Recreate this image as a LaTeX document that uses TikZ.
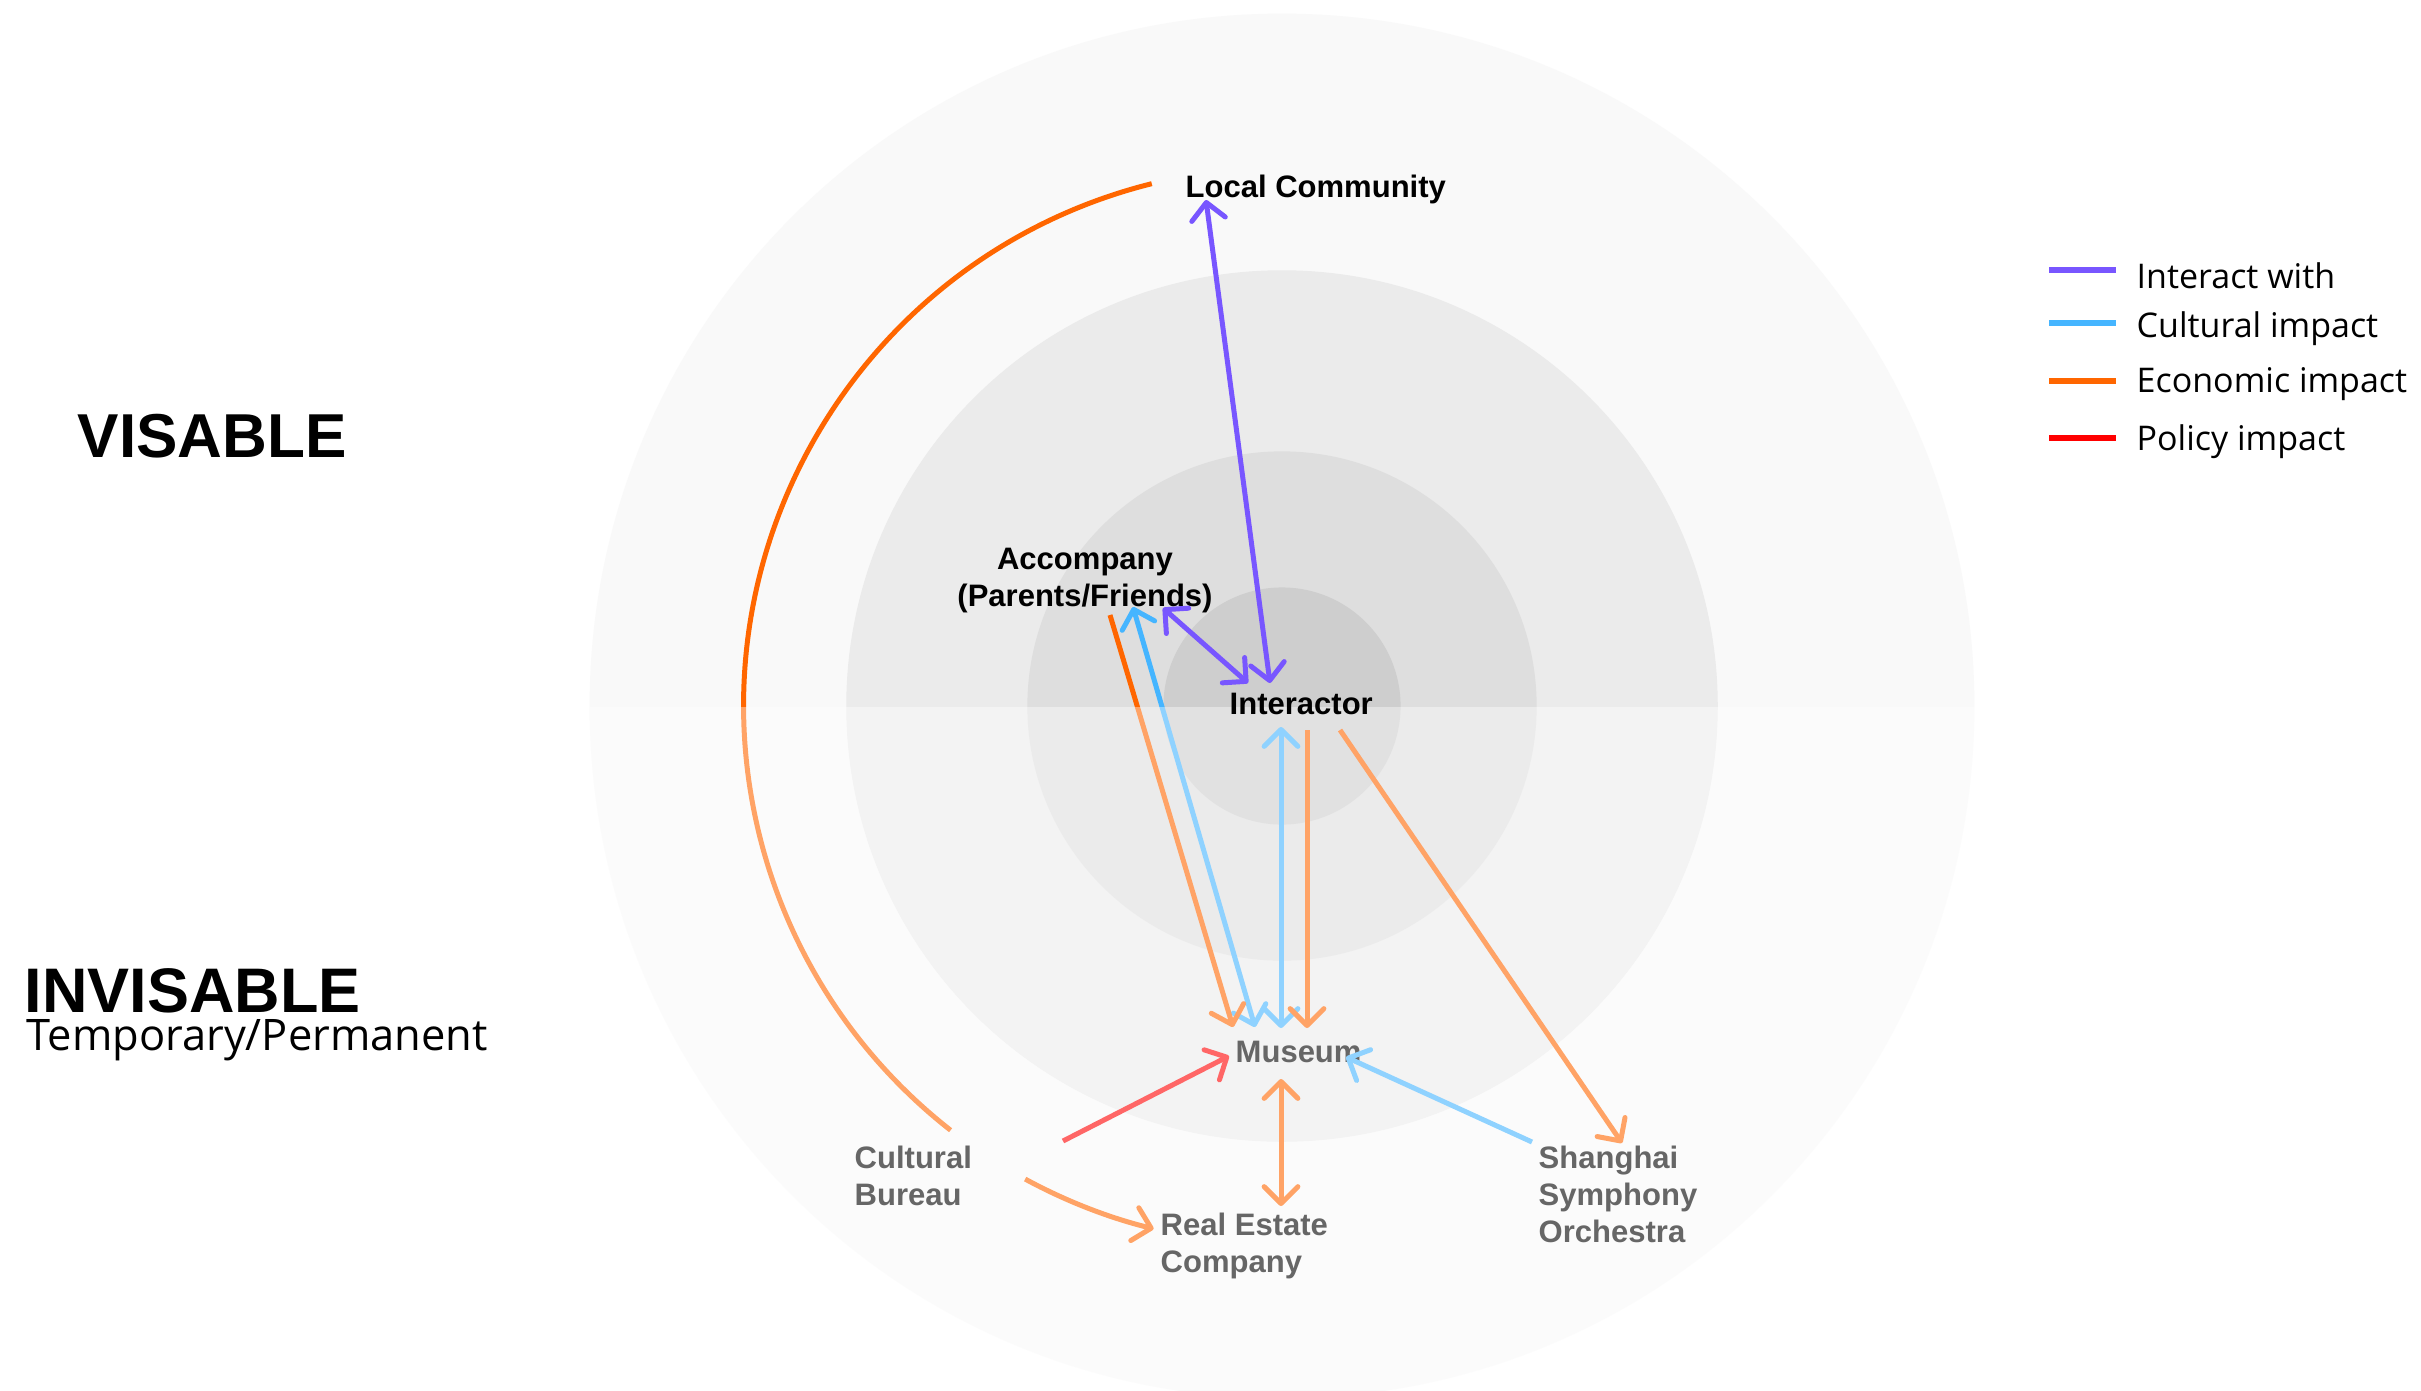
\documentclass[tikz,border=0pt]{standalone}
\usepackage{fontspec}
\setmainfont{Liberation Sans}
\newfontfamily\legendfont{Open Sans}
\usetikzlibrary{arrows.meta,calc}

\definecolor{interact}{HTML}{7856FF}
\definecolor{culture}{HTML}{45B5FF}
\definecolor{economy}{HTML}{FF6600}
\definecolor{policy}{HTML}{FF0000}
\definecolor{ringA}{HTML}{F9F9F9}
\definecolor{ringB}{HTML}{EBEBEB}
\definecolor{ringC}{HTML}{DEDEDE}
\definecolor{ringD}{HTML}{CECECE}

\begin{document}
\begin{tikzpicture}[x=0.01cm, y=-0.01cm,
  >={Straight Barb[length=4.8pt,width=9.6pt,round]},
  link/.style={line width=1.42pt},
  actor/.style={font=\fontsize{8.82pt}{10.53pt}\selectfont\bfseries, inner sep=0pt, text=black},
  zone/.style={font=\fontsize{17.64pt}{20pt}\selectfont\bfseries, inner sep=0pt, anchor=base west},
  keytext/.style={font=\fontsize{9.67pt}{11pt}\selectfont\legendfont, inner sep=0pt, anchor=base west},
  keyline/.style={line width=1.7pt}
]
\useasboundingbox (0,0) rectangle (2421,1390);
\fill[white] (0,0) rectangle (2421,1390);

% concentric rings
\coordinate (c) at (1282,706);
\fill[ringA] (c) circle[radius=6.92cm];
\fill[ringB] (c) circle[radius=4.355cm];
\fill[ringC] (c) circle[radius=2.545cm];
\fill[ringD] (c) circle[radius=1.185cm];

% side captions
\node[zone] (vis) at (77,457) {VISABLE};
\node[zone, font=\fontsize{17.9pt}{20pt}\selectfont\bfseries] (invis) at (24,1012) {INVISABLE};
\node[font=\fontsize{12.35pt}{14pt}\selectfont\legendfont, inner sep=0pt, anchor=base west] (tp) at (26,1050) {Temporary/Permanent};

% actors
\node[actor, anchor=base west] (lc) at (1185,197) {Local Community};
\node[actor, anchor=north, align=center] (acc) at (1085,547) {Accompany\\(Parents/Friends)};
\node[actor, anchor=base west] (mus) at (1235,1062) {Museum};
\node[actor, anchor=north west, align=left] (cb) at (854,1145) {Cultural\\Bureau};
\node[actor, anchor=north west, align=left] (re) at (1160,1212) {Real Estate\\Company};
\node[actor, anchor=north west, align=left] (sso) at (1538,1145) {Shanghai\\Symphony\\Orchestra};

% connector end points
\coordinate (lc-s) at (1206,200);
\coordinate (in-lc) at (1270,683);
\coordinate (acc-in) at (1163,608);
\coordinate (in-acc) at (1248,683);
\coordinate (acc-cu) at (1133,607);
\coordinate (mus-acc-cu) at (1255,1027);
\coordinate (acc-ec) at (1110,615);
\coordinate (mus-acc-ec) at (1233,1027);
\coordinate (in-cu) at (1281,727);
\coordinate (mus-in-cu) at (1281,1028);
\coordinate (in-ec) at (1307,730);
\coordinate (mus-in-ec) at (1307,1028);
\coordinate (in-sso) at (1340,730);
\coordinate (sso-in) at (1622,1143);
\coordinate (sso-mus) at (1532,1142);
\coordinate (mus-sso) at (1346,1057);
\coordinate (cb-mus) at (1063,1141);
\coordinate (mus-cb) at (1229,1056);
\coordinate (mus-re) at (1281,1079);
\coordinate (re-mus) at (1281,1206);
\coordinate (lc-arc) at ($(c)+(104:5.38cm)$);
\coordinate (cb-arc) at ($(c)+(241.5:5.38cm)$);

% interactions
\draw[link, interact, <->] (lc-s) -- (in-lc);
\draw[link, interact, <->] (acc-in) -- (in-acc);

% cultural impact
\draw[link, culture, <->] (acc-cu) -- (mus-acc-cu);
\draw[link, culture, <->] (in-cu) -- (mus-in-cu);
\draw[link, culture, ->] (sso-mus) -- (mus-sso);

% economic impact
\draw[link, economy, ->] (acc-ec) -- (mus-acc-ec);
\draw[link, economy, ->] (in-ec) -- (mus-in-ec);
\draw[link, economy, ->] (in-sso) -- (sso-in);
\draw[link, economy, <->] (mus-re) -- (re-mus);
\draw[link, economy] (lc-arc) arc[start angle=104, end angle=232, radius=5.38cm];
\draw[link, economy, ->] (cb-arc) arc[start angle=241.5, end angle=256.2, radius=5.38cm];

% policy impact
\draw[link, policy, ->] (cb-mus) -- (mus-cb);

% lower half veiled
\fill[white, opacity=0.4] (590,707) rectangle (1975,1390);

\node[actor, anchor=base west] (inter) at (1229,714) {Interactor};

% legend
\coordinate (k1a) at (2049,270); \coordinate (k1b) at (2116,270);
\coordinate (k2a) at (2049,323); \coordinate (k2b) at (2116,323);
\coordinate (k3a) at (2049,381); \coordinate (k3b) at (2116,381);
\coordinate (k4a) at (2049,438); \coordinate (k4b) at (2116,438);
\draw[keyline, interact] (k1a) -- (k1b);
\draw[keyline, culture] (k2a) -- (k2b);
\draw[keyline, economy] (k3a) -- (k3b);
\draw[keyline, policy] (k4a) -- (k4b);
\node[keytext] (key1) at (2136,288) {Interact with};
\node[keytext] (key2) at (2136,337) {Cultural impact};
\node[keytext] (key3) at (2136,392) {Economic impact};
\node[keytext] (key4) at (2136,450) {Policy impact};
\end{tikzpicture}
\end{document}
